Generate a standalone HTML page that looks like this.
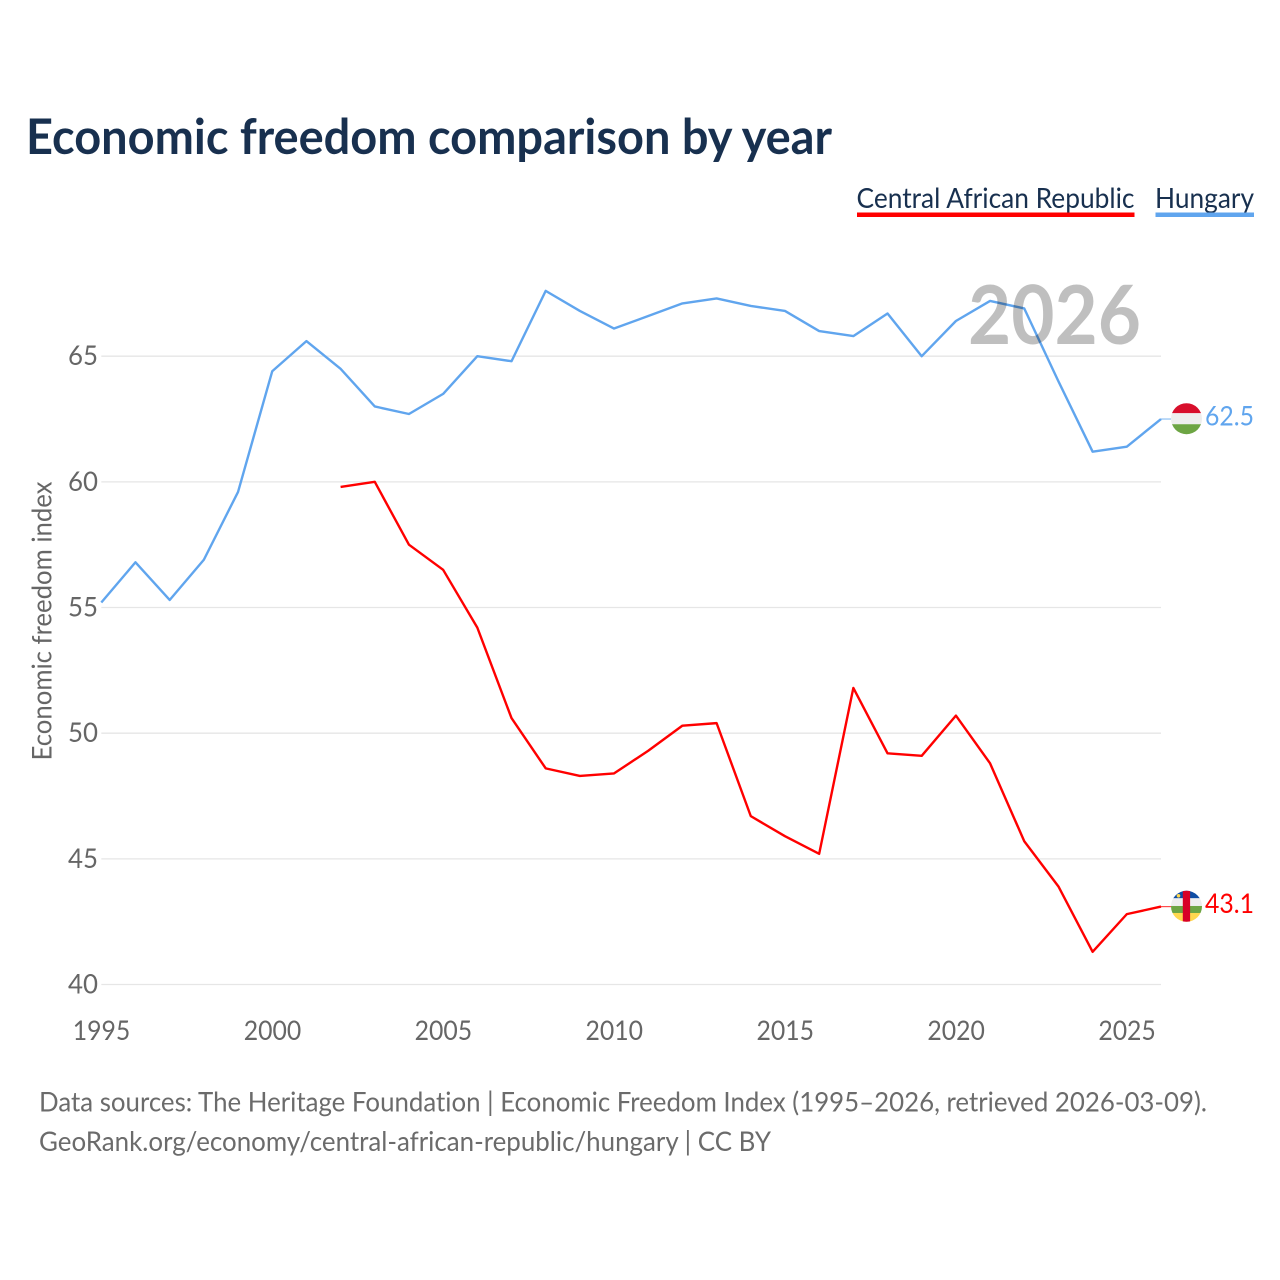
<!DOCTYPE html>
<html lang="en">
<head>
<meta charset="utf-8">
<title>Economic freedom comparison by year</title>
<style>
html,body{margin:0;padding:0;background:#fff;}
svg{display:block;font-family:"Lato","Carlito","Liberation Sans",sans-serif;font-variant-ligatures:none;}
</style>
</head>
<body>
<svg id="chart" xmlns="http://www.w3.org/2000/svg" width="1280" height="1280" viewBox="0 0 1280 1280">
  <defs>
    <clipPath id="clip-hu"><circle cx="0" cy="0" r="15.5"/></clipPath>
    <clipPath id="clip-cf"><circle cx="0" cy="0" r="15.5"/></clipPath>
  </defs>
  <text x="26" y="154" font-size="49" font-weight="700" fill="#18304f" textLength="806" lengthAdjust="spacingAndGlyphs">Economic freedom comparison by year</text>

  <g>
    <g>
      <text x="856.500" y="208" font-size="28" fill="#18304f" textLength="278" lengthAdjust="spacingAndGlyphs">Central African Republic</text>
      <rect x="857" y="212.500" width="277.500" height="4.500" fill="#ff0000"/>
    </g>
    <g>
      <text x="1155" y="208" font-size="28" fill="#18304f" textLength="99" lengthAdjust="spacingAndGlyphs">Hungary</text>
      <rect x="1155.500" y="212.500" width="98.500" height="4.500" fill="#60a5ee"/>
    </g>
  </g>

  <text transform="translate(51.500,760.500) rotate(-90)" font-size="27.500" fill="#666666" textLength="279" lengthAdjust="spacingAndGlyphs">Economic freedom index</text>

  <g id="grid"></g>
  <g id="y-axis"></g>
  <g id="x-axis"></g>
  <g id="series"></g>

  <g id="flag-hu">
    <g clip-path="url(#clip-hu)">
      <rect x="-16" y="-16" width="32" height="10.500" fill="#d80f2c"/>
      <rect x="-16" y="-5.500" width="32" height="11" fill="#eeeeee"/>
      <rect x="-16" y="5.500" width="32" height="10.500" fill="#6da544"/>
    </g>
  </g>
  <g id="flag-cf">
    <g clip-path="url(#clip-cf)">
      <rect x="-16" y="-16" width="32" height="8" fill="#0e4da4"/>
      <rect x="-16" y="-8" width="32" height="7.700" fill="#eeeeee"/>
      <rect x="-16" y="-0.300" width="32" height="7" fill="#6da544"/>
      <rect x="-16" y="6.700" width="32" height="9.300" fill="#ffd84f"/>
      <rect x="-3.700" y="-16" width="7.300" height="32" fill="#d80027"/>
      <circle cx="-8" cy="-10.500" r="1.800" fill="#ffd84f"/>
    </g>
  </g>
  <text id="value-hu" x="1205" y="425" font-size="27" fill="#60a5ee" textLength="49" lengthAdjust="spacingAndGlyphs"></text>
  <text id="value-cf" x="1205" y="912" font-size="27" fill="#ff0000" textLength="49" lengthAdjust="spacingAndGlyphs"></text>

  <text x="968" y="344" font-size="81" font-weight="700" fill="#000000" fill-opacity="0.25" textLength="173" lengthAdjust="spacingAndGlyphs">2026</text>

  <text x="39" y="1111.500" font-size="27.500" fill="#6b6b6b" textLength="1168" lengthAdjust="spacingAndGlyphs">Data sources: The Heritage Foundation | Economic Freedom Index (1995–2026, retrieved 2026-03-09).</text>
  <text x="39" y="1151" font-size="27.500" fill="#6b6b6b" textLength="732" lengthAdjust="spacingAndGlyphs">GeoRank.org/economy/central-african-republic/hungary | CC BY</text>
</svg>
<script>
const years = [1995,1996,1997,1998,1999,2000,2001,2002,2003,2004,2005,2006,2007,2008,2009,2010,2011,2012,2013,2014,2015,2016,2017,2018,2019,2020,2021,2022,2023,2024,2025,2026];
const hungaryValues = [55.2,56.8,55.3,56.9,59.6,64.4,65.6,64.5,63.0,62.7,63.5,65.0,64.8,67.6,66.8,66.1,66.6,67.1,67.3,67.0,66.8,66.0,65.8,66.7,65.0,66.4,67.2,66.9,64.0,61.2,61.4,62.5];
const carValues = [null,null,null,null,null,null,null,59.8,60.0,57.5,56.5,54.2,50.6,48.6,48.3,48.4,49.3,50.3,50.4,46.7,45.9,45.2,51.8,49.2,49.1,50.7,48.8,45.7,43.9,41.3,42.8,43.1];
const yTicks = [40,45,50,55,60,65];
const xTicks = [1995,2000,2005,2010,2015,2020,2025];

const NS = 'http://www.w3.org/2000/svg';
function xScale(year){ return 101.300 + (year - 1995) * (1161 - 101.300) / (2026 - 1995); }
function yScale(v){ return 984.500 - (v - 40) * (984.500 - 356.200) / (65 - 40); }
function make(tag, attrs, parent){
  const el = document.createElementNS(NS, tag);
  for (const k in attrs) el.setAttribute(k, attrs[k]);
  parent.appendChild(el);
  return el;
}

const grid = document.getElementById('grid');
const yAxis = document.getElementById('y-axis');
const xAxis = document.getElementById('x-axis');
const series = document.getElementById('series');

yTicks.forEach(function(t){
  const line = make('line', {x1:101.300, x2:1161, y1:yScale(t), y2:yScale(t), stroke:'#e6e6e6', 'stroke-width':1.3}, grid);
  
  
  const label = make('text', {x:68, y:yScale(t)+9, 'font-size':27, fill:'#666666', textLength:30, lengthAdjust:'spacingAndGlyphs'}, yAxis);
  
  
  label.textContent = t;
});

xTicks.forEach(function(t){
  const label = make('text', {x:xScale(t)-28.500, y:1040, 'font-size':27, fill:'#666666', textLength:57.500, lengthAdjust:'spacingAndGlyphs'}, xAxis);
  
  
  label.textContent = t;
});

function drawSeries(values, color, name, flagId, valueId){
  const pts = [];
  values.forEach(function(v, i){
    if (v !== null) pts.push(xScale(years[i]).toFixed(2) + ',' + yScale(v).toFixed(2));
  });
  const line = make('polyline', {points:pts.join(' '), fill:'none', stroke:color, 'stroke-width':2.400, 'stroke-linejoin':'round'}, series);
  
  
  const last = values[values.length - 1];
  const ly = yScale(last);
  const conn = make('line', {x1:1161, x2:1171, y1:ly, y2:ly, stroke:color, 'stroke-width':1.200, 'stroke-opacity':0.7}, series);
  
  
  document.getElementById(flagId).setAttribute('transform', 'translate(1186.500,' + (ly - 0.300) + ')');
  const valueLabel = document.getElementById(valueId);
  valueLabel.setAttribute('y', ly + 6.300);
  valueLabel.textContent = last.toFixed(1);
}
drawSeries(hungaryValues, '#60a5ee', 'line-hungary', 'flag-hu', 'value-hu');
drawSeries(carValues, '#ff0000', 'line-central-african-republic', 'flag-cf', 'value-cf');
</script>
</body>
</html>
